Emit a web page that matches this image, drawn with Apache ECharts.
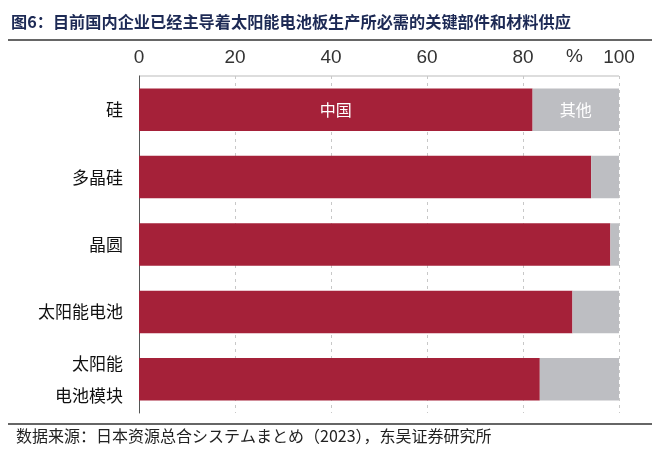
<!DOCTYPE html>
<html><head><meta charset="utf-8">
<script src="https://cdn.jsdelivr.net/npm/echarts@6/dist/echarts.min.js"></script>
<style>html,body{margin:0;padding:0;background:#fff}#c{width:660px;height:452px}</style>
</head><body><div id="c"></div>
<script>
const categories = ['硅', '多晶硅', '晶圆', '太阳能电池', '太阳能\n电池模块'];
const chinaShare = [82, 94.2, 98.2, 90.3, 83.5];
const otherShare = [18, 5.8, 1.8, 9.7, 16.5];
const xTicks = [0, 20, 40, 60, 80, 100];
const seriesNames = ['中国', '其他'];
const titleText = '图6：目前国内企业已经主导着太阳能电池板生产所必需的关键部件和材料供应';
const sourceText = '数据来源：日本资源总合システムまとめ（2023），东吴证券研究所';

const chart = echarts.init(document.getElementById('c'), null, {renderer: 'canvas'});
const cjk = '"Noto Sans CJK SC", sans-serif';
function withFirstLabel(arr, name) {
  return arr.map((v, i) => i === 0 ? {value: v, label: {show: true, formatter: name}} : v);
}
chart.setOption({
  animation: false,
  grid: {left: 139, right: 41, top: 76, bottom: 39},
  xAxis: {
    type: 'value', position: 'top', min: 0, max: 100, interval: 20,
    axisLine: {show: false}, axisTick: {show: false},
    axisLabel: {fontSize: 19, color: '#333', margin: 9, fontFamily: '"Liberation Sans Narrow", "Liberation Sans", sans-serif',
      formatter: v => xTicks.includes(v) ? String(v) : ''},
    splitLine: {show: true, lineStyle: {color: '#c8c8c8', type: [3, 4], width: 1}}
  },
  yAxis: {
    type: 'category', data: categories, inverse: true,
    axisLine: {show: true, lineStyle: {color: '#555', width: 1}},
    axisTick: {show: false},
    axisLabel: {fontSize: 17, color: '#111', fontFamily: cjk, margin: 16, lineHeight: 32, align: 'right'}
  },
  series: [
    {name: seriesNames[0], type: 'bar', stack: 's', barCategoryGap: '37%',
     itemStyle: {color: '#A52139'},
     label: {show: false, position: 'inside', color: '#fff', fontSize: 16, fontFamily: cjk},
     data: withFirstLabel(chinaShare, seriesNames[0])},
    {name: seriesNames[1], type: 'bar', stack: 's',
     itemStyle: {color: '#BDBEC2'},
     label: {show: false, position: 'inside', color: '#fff', fontSize: 16, fontFamily: cjk},
     data: withFirstLabel(otherShare, seriesNames[1])}
  ],
  graphic: [
    {type: 'text', left: 11, top: 14, style: {text: titleText, fill: '#1d2a55', font: 'bold 16.2px "Noto Sans CJK SC"'}},
    {type: 'line', shape: {x1: 8, y1: 40, x2: 652, y2: 40}, style: {stroke: '#333', lineWidth: 1.5}},
    {type: 'line', shape: {x1: 139, y1: 76, x2: 619, y2: 76}, style: {stroke: '#bbb', lineWidth: 1}},
    {type: 'text', x: 566, y: 47, style: {text: '%', fill: '#333', font: '19px "Liberation Sans Narrow", sans-serif'}},
    {type: 'line', shape: {x1: 8, y1: 424, x2: 652, y2: 424}, style: {stroke: '#333', lineWidth: 1.5}},
    {type: 'text', left: 16, top: 428, style: {text: sourceText, fill: '#222', font: '16px "Noto Sans CJK SC"'}}
  ]
});
</script></body></html>
